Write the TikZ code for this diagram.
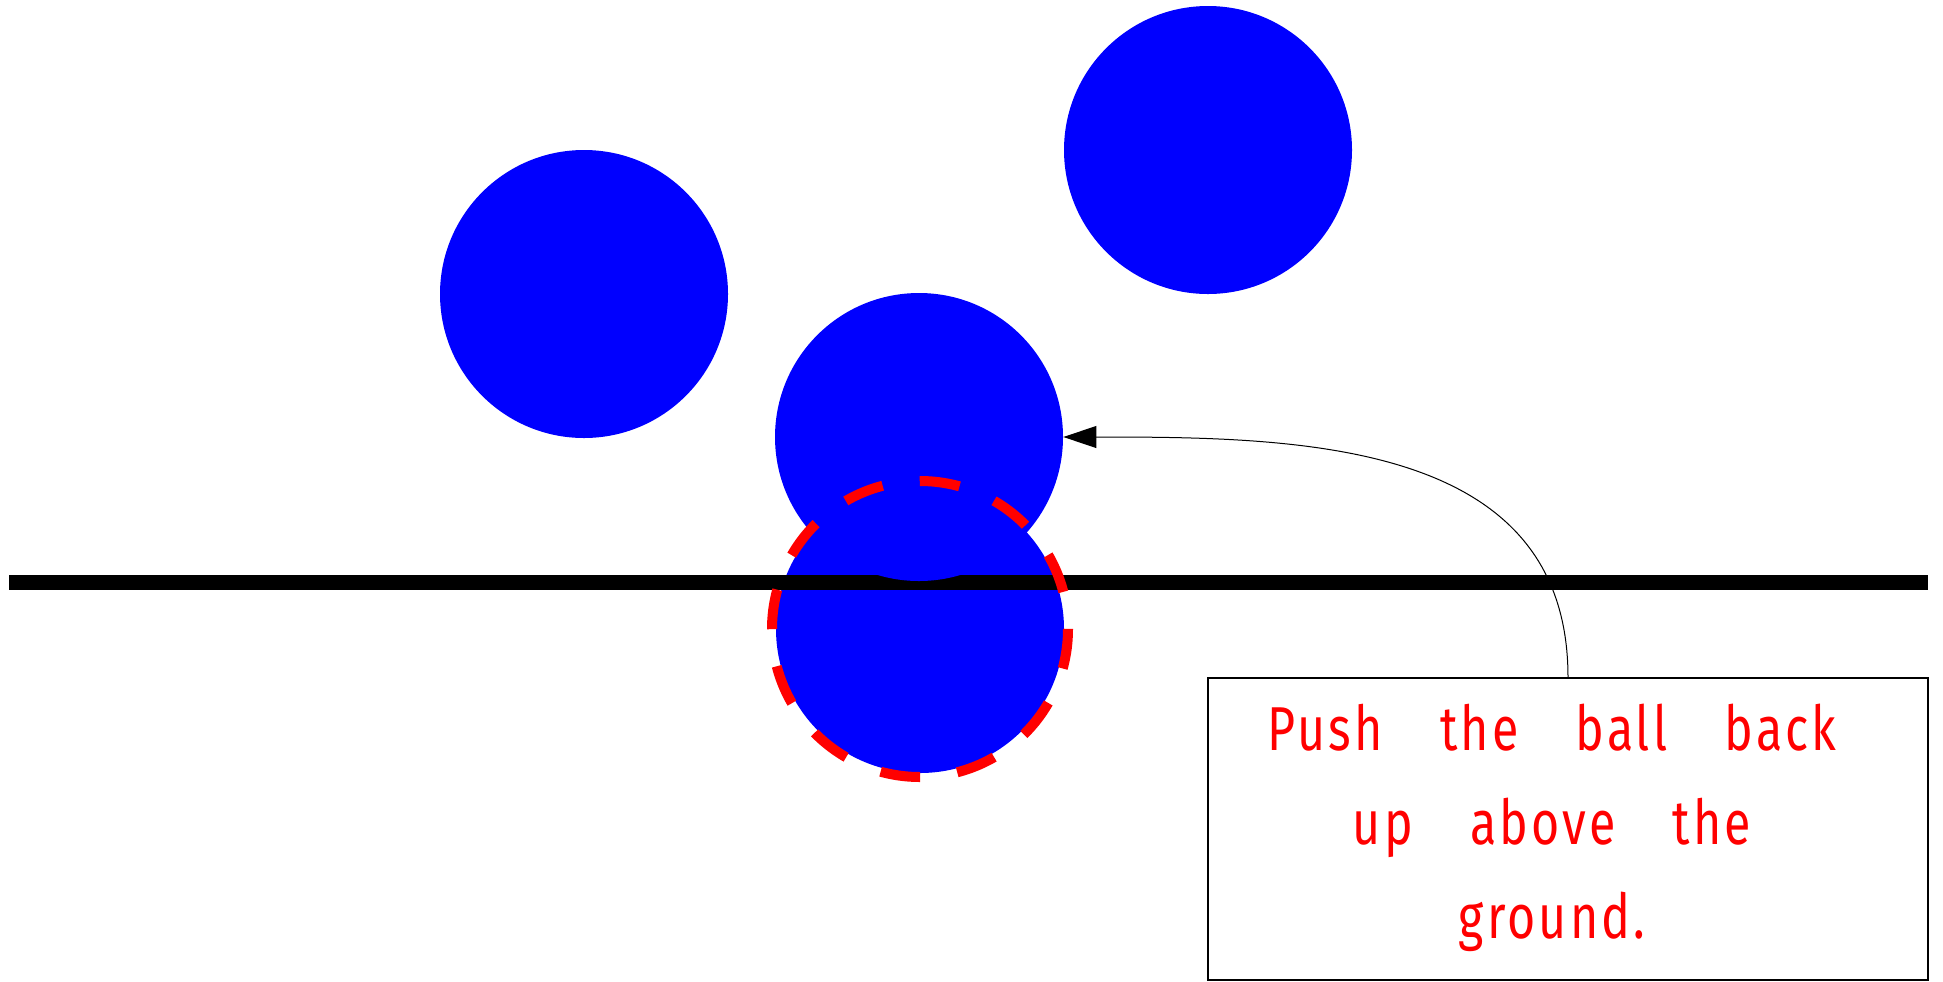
\documentclass[tikz,border=0pt]{standalone}
\usepackage{fontspec}
\newfontfamily\notefont{Fira Sans}[FakeStretch=0.78,WordSpace=3.6,LetterSpace=5]
\usetikzlibrary{arrows.meta}
\definecolor{pureblue}{RGB}{0,0,255}
\definecolor{purered}{RGB}{255,0,0}
\tikzset{
  ball/.style={circle, fill=pureblue, draw=none, minimum size=144pt, inner sep=0pt},
  ground/.style={line width=7.5pt, black},
  ghost/.style={purered, line width=5pt, dash pattern=on 20pt off 18.74pt},
  notebox/.style={rectangle, draw=black, line width=0.7pt, minimum width=360pt, minimum height=151pt, inner sep=0pt},
  notetext/.style={text=purered, align=center, inner sep=0pt, font=\notefont\fontsize{31}{47}\selectfont},
  pointer/.style={-{Triangle[length=16.5pt,width=11pt]}, line width=0.5pt, black}
}
\begin{document}
\begin{tikzpicture}[x=0.5pt,y=-0.5pt]
\useasboundingbox (0,0) rectangle (1943,981);
% balls
\node[ball] (a) at (584,294) {};
\node[ball] (b) at (1208,150) {};
\node[ball] (d) at (920,629) {};
% ground
\coordinate (gl) at (9,582);
\coordinate (gr) at (1928,582);
\draw[ground] (gl) -- (gr);
\node[ball] (c) at (919,437) {};
% ghost circle (dashed outline of the pushed ball)
\draw[ghost] (d.center) ++(0,-148) arc[start angle=-90, end angle=270, radius=148];
% note
\node[notebox] (note) at (1568,829) {};
\node[notetext] (txt) at (1552,828) {Push the ball back\\up above the\\ground.};
\draw[pointer] (note.north) .. controls (1568,440) and (1300,437) .. (c.east);
\end{tikzpicture}
\end{document}
